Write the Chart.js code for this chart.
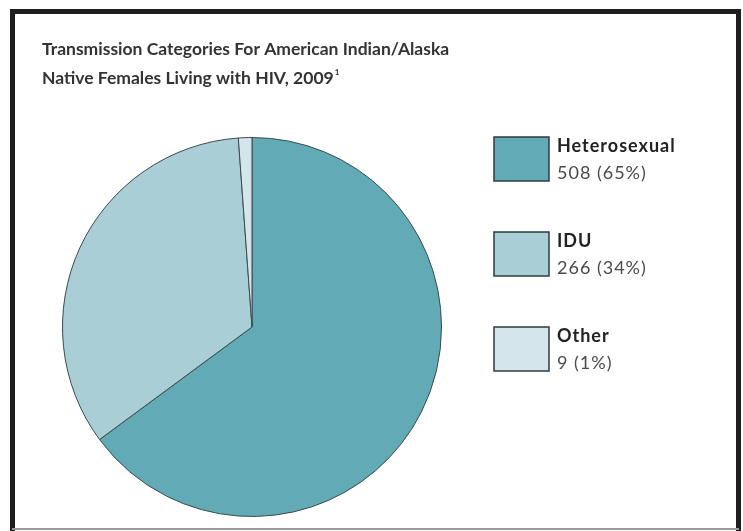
<!DOCTYPE html>
<html>
<head>
<meta charset="utf-8">
<script src="https://cdn.jsdelivr.net/npm/chart.js@4"></script>
<style>
body { margin: 0; background: #fff; }
#wrap { width: 743px; height: 531px; position: relative; }
</style>
</head>
<body>
<div id="wrap"><canvas id="pie" width="743" height="531"></canvas></div>
<script>
const categories = ['Heterosexual', 'IDU', 'Other'];
const cases = [508, 266, 9];
const shares = ['65%', '34%', '1%'];
const titleLines = ['Transmission Categories For American Indian/Alaska', 'Native Females Living with HIV, 2009'];
const fills = ['#62aab6', '#a9ced6', '#d4e6eb'];

// frame, title and the two-line legend are drawn on top of the pie
const frameAndText = {
    id: 'frameAndText',
    afterDraw(chart) {
        const ctx = chart.ctx;
        ctx.save();

        ctx.strokeStyle = '#1e1e1e';
        ctx.lineWidth = 5;
        ctx.beginPath();
        ctx.moveTo(12.5, 531);
        ctx.lineTo(12.5, 11.5);
        ctx.lineTo(738.5, 11.5);
        ctx.lineTo(738.5, 531);
        ctx.stroke();
        ctx.strokeStyle = '#9a9a9a';
        ctx.lineWidth = 2;
        ctx.beginPath();
        ctx.moveTo(12, 529);
        ctx.lineTo(739, 529);
        ctx.stroke();

        ctx.fillStyle = '#333';
        ctx.textBaseline = 'middle';
        ctx.font = 'bold 17.5px Lato';
        ctx.fillText(titleLines[0], 42, 49);
        ctx.fillText(titleLines[1], 42, 78);
        const w = ctx.measureText(titleLines[1]).width;
        ctx.font = 'bold 8px Lato';
        ctx.fillText('1', 42 + w + 1, 72);

        const ds = chart.data.datasets[0];
        ctx.letterSpacing = '1px';
        chart.data.labels.forEach((lab, i) => {
            const top = 137 + i * 95;
            ctx.fillStyle = ds.backgroundColor[i];
            ctx.fillRect(494, top, 55, 44);
            ctx.strokeStyle = '#2f3b3e';
            ctx.lineWidth = 1.5;
            ctx.strokeRect(494, top, 55, 44);

            ctx.fillStyle = '#222';
            ctx.font = 'bold 18px Lato';
            ctx.fillText(lab, 557, top + 9);
            ctx.fillStyle = '#4a4a4a';
            ctx.font = '18px Lato';
            ctx.fillText(ds.data[i] + ' (' + shares[i] + ')', 557, top + 36);
        });
        ctx.restore();
    }
};

new Chart(document.getElementById('pie'), {
    type: 'pie',
    data: {
        labels: categories,
        datasets: [{
            data: cases,
            backgroundColor: fills,
            borderColor: '#3b4a4e',
            borderWidth: 1
        }]
    },
    options: {
        responsive: false,
        animation: false,
        layout: { padding: { left: 62, right: 301, top: 137, bottom: 14 } },
        plugins: {
            legend: { display: false },
            tooltip: { enabled: false },
            title: { display: false }
        }
    },
    plugins: [frameAndText]
});
</script>
</body>
</html>
